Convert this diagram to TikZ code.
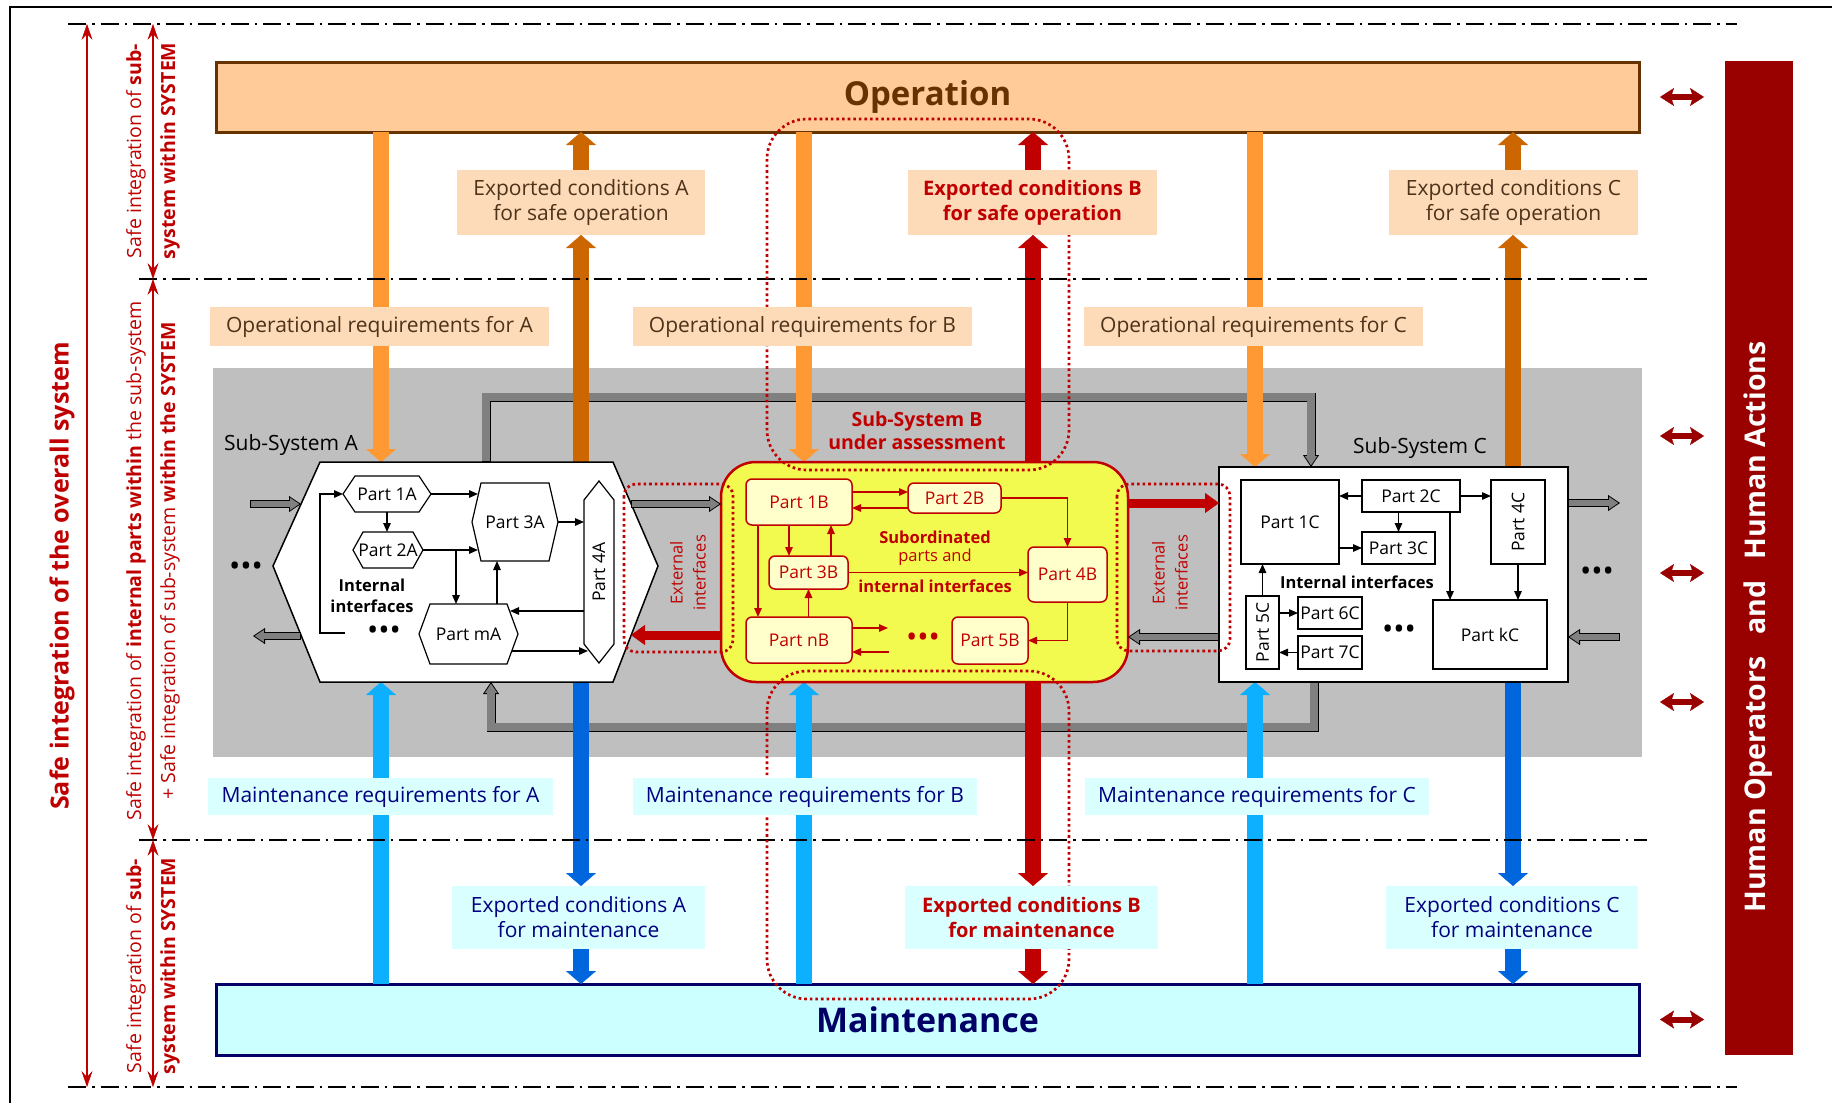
\documentclass[tikz,border=0pt]{standalone}
\usepackage{fontspec}
\usepackage{graphicx}
\setmainfont{Open Sans}
\usetikzlibrary{arrows.meta,calc}
\pgfdeclarelayer{back}
\pgfdeclarelayer{arrows}
\pgfsetlayers{back,arrows,main}
\definecolor{lor}{HTML}{FF9933}
\definecolor{dor}{HTML}{CC6600}
\definecolor{lbl}{HTML}{0DB0FF}
\definecolor{dbl}{HTML}{0066DD}
\definecolor{rd}{HTML}{C00000}
\definecolor{drd}{HTML}{990000}
\definecolor{opfill}{HTML}{FFCC99}
\definecolor{opdraw}{HTML}{663300}
\definecolor{peach}{HTML}{FDDAB8}
\definecolor{cyanl}{HTML}{DAFFFF}
\definecolor{mtfill}{HTML}{CCFFFF}
\definecolor{navy}{HTML}{000066}
\definecolor{navyt}{HTML}{000080}
\definecolor{brn}{HTML}{4D3319}
\definecolor{bgg}{HTML}{BFBFBF}
\definecolor{gry}{HTML}{808080}
\definecolor{ylw}{HTML}{F2FA50}
\definecolor{ylwl}{HTML}{FFFFCC}
\newcommand\fs[2]{\fontsize{#1}{#2}\selectfont}
\newcommand\hexh[7]{%
  \node[minimum width=#4pt,minimum height=#5pt,font=\fs{17.5}{20}] (#1) at (#2,#3) {#7};
  \draw[line width=1.2pt] (#1.west) -- ($(#1.north west)+(#6,0)$) -- ($(#1.north east)+(-#6,0)$) -- (#1.east) -- ($(#1.south east)+(-#6,0)$) -- ($(#1.south west)+(#6,0)$) -- cycle;}
\newcommand\hexv[7]{%
  \node[minimum width=#4pt,minimum height=#5pt,font=\fs{17.5}{20}] (#1) at (#2,#3) {\rotatebox{90}{#7}};
  \draw[line width=1.2pt] (#1.north) -- ($(#1.north east)+(0,#6)$) -- ($(#1.south east)+(0,-#6)$) -- (#1.south) -- ($(#1.south west)+(0,-#6)$) -- ($(#1.north west)+(0,#6)$) -- cycle;}
\begin{document}
\begin{tikzpicture}[x=1pt,y=-1pt,
  every node/.style={inner sep=0pt,outer sep=0pt},
  arr/.style={line width=1.3pt,-{Triangle[length=9pt,width=7.5pt]}},
  rarr/.style={arr,draw=rd},
  bigarr/.style={line width=16pt,-{Triangle[length=13pt,width=30pt,line width=0.4pt]}},
  fatg/.style={line width=7.5pt,draw=black,-{Triangle[length=12pt,width=16pt,line width=0.8pt,fill=gry]},postaction={draw=gry,line width=5.9pt,-,shorten >=10pt,shorten <=0.8pt}},
  fatline/.style={line width=9pt,draw=black,line join=miter,-{Triangle[length=12pt,width=16pt,line width=0.8pt,fill=gry]},postaction={draw=gry,line width=7.4pt,-,shorten >=10pt,shorten <=0.8pt}},
  fatr/.style={line width=9pt,draw=rd,-{Triangle[length=14pt,width=20pt,line width=0.4pt]}},
  larr/.style={line width=2.5pt,draw=rd,{Stealth[length=16pt,width=11pt,inset=6pt,line width=0.5pt]}-{Stealth[length=16pt,width=11pt,inset=6pt,line width=0.5pt]}},
  harr/.style={line width=6pt,draw=drd,{Stealth[length=14pt,width=18pt,inset=3pt,line width=0.4pt]}-{Stealth[length=14pt,width=18pt,inset=3pt,line width=0.4pt]}},
  dashdot/.style={line width=1.8pt,dash pattern=on 18pt off 6pt on 2.5pt off 6pt},
  reddot/.style={draw=rd,line width=2.7pt,dash pattern=on 2.6pt off 3pt},
  lb/.style={font=\fs{21}{25},align=center},
  bpart/.style={draw=rd,fill=ylwl,line width=1.5pt,rounded corners=6pt,text=rd,font=\fs{17.5}{20}},
  cpart/.style={draw=black,fill=white,line width=1.3pt,font=\fs{17.5}{20}},
  sidet/.style={rotate=90,text=rd,align=center,font=\fs{19.5}{34}},
  dots/.style={font=\fs{30}{30}}
]
\useasboundingbox (0,0) rectangle (1832,1103);
\begin{pgfonlayer}{back}
\fill[white] (0,0) rectangle (1832,1103);
\draw[line width=2.5pt] (10,1103) -- (10,7) -- (1832,7);
\fill[bgg] (213,368) rectangle (1642,757);
\node[draw=opdraw,line width=3pt,fill=opfill,minimum width=1423pt,minimum height=70pt,text=opdraw,font=\bfseries\fs{33}{38}] (op) at (927.5,97) {Operation};
\node[draw=navy,line width=3pt,fill=mtfill,minimum width=1423pt,minimum height=71pt,text=navy,font=\bfseries\fs{34}{38}] (mt) at (927.5,1019.5) {Maintenance};
\node[fill=drd,minimum width=68pt,minimum height=994pt] (hum) at (1759,558) {};
\node[rotate=90,text=white,font=\bfseries\fs{28.5}{32}] (humt) at (1758,627) {Human Operators\hspace{0.5em} and\hspace{0.5em} Human Actions};
\end{pgfonlayer}

% ---------- Subsystem A ----------
\coordinate (a1) at (320,462); \coordinate (a2) at (613,462); \coordinate (a3) at (658,566);
\coordinate (a4) at (613,682); \coordinate (a5) at (320,682); \coordinate (a6) at (273,566);
\draw[fill=white,line width=1.5pt] (a1)--(a2)--(a3)--(a4)--(a5)--(a6)--cycle;
\node[font=\fs{21}{25}] (ssAl) at (291,445) {Sub-System A};
\hexh{p1A}{387}{494}{88}{36}{12}{Part 1A}
\hexh{p2A}{388}{550}{70}{36}{10}{Part 2A}
\hexh{p3A}{515}{522}{86}{78}{9}{Part 3A}
\hexh{pmA}{468.5}{634}{99}{60}{11}{Part mA}
\hexv{p4A}{599}{572}{30}{182}{19}{Part 4A}
\node[font=\bfseries\fs{16.5}{21},align=center] (iiA) at (372,596) {Internal\\interfaces};
\node[dots] (dA1) at (384,633) {•••};
\coordinate (Y611) at (0,611); \coordinate (Y651) at (0,651);
\coordinate (brA) at (456,550); \coordinate (upA) at (497,0); \coordinate (lpA) at (345,633);
\draw[arr] (p1A.east) -- ($(p3A.west |- p1A.east)+(6,0)$);
\draw[arr] (p1A.south) -- (p1A.south |- p2A.north);
\draw[arr] (p2A.east) -- ($(p3A.west |- p2A.east)+(6,0)$);
\draw[arr] (brA) -- (brA |- pmA.north);
\draw[arr] (upA |- pmA.north) -- (upA |- p3A.south);
\draw[arr] (p3A.east) -- (p3A.east -| p4A.west);
\draw[arr] (p4A.west |- Y611) -- ($(pmA.east |- Y611)+(-8,0)$);
\draw[arr] ($(pmA.east |- Y651)+(-6,0)$) -- ($(p4A.west |- Y651)+(4,0)$);
\draw[arr] (lpA) -- ++(-25,0) |- (p1A.west);

% ---------- Subsystem B ----------
\node[draw=rd,fill=ylw,line width=2.5pt,rounded corners=35pt,minimum width=407pt,minimum height=220pt] (ssB) at (924.5,572) {};
\node[text=rd,font=\bfseries\fs{19.5}{23},align=center] (ssBl) at (917,431) {Sub-System B\\under assessment};
\node[bpart,minimum width=106pt,minimum height=46pt] (p1B) at (799,502) {Part 1B};
\node[bpart,minimum width=93pt,minimum height=30pt] (p2B) at (954.5,498) {Part 2B};
\node[bpart,minimum width=79pt,minimum height=33pt] (p3B) at (808.5,572.5) {Part 3B};
\node[bpart,minimum width=79pt,minimum height=55pt] (p4B) at (1067.5,574.5) {Part 4B};
\node[bpart,minimum width=106pt,minimum height=46pt] (pnB) at (799,640) {Part nB};
\node[bpart,minimum width=76pt,minimum height=47pt] (p5B) at (990,640.5) {Part 5B};
\node[text=rd,font=\bfseries\fs{16.5}{20}] (subo) at (935,537) {Subordinated};
\node[text=rd,font=\fs{16.5}{20}] (pand) at (935,557) {parts and};
\node[text=rd,font=\bfseries\fs{16.5}{20}] (iiB) at (935,586) {internal interfaces};
\node[dots,text=rd] (dB) at (923,640) {•••};
\coordinate (Y492) at (0,492); \coordinate (Y508) at (0,508);
\coordinate (X789) at (789,0); \coordinate (X831) at (831,0); \coordinate (X758) at (758,0);
\coordinate (Y628) at (0,628); \coordinate (Y652) at (0,652);
\coordinate (nBo) at (888,628); \coordinate (nBi) at (889,652);
\draw[rarr] (p1B.east |- Y492) -- (p2B.west |- Y492);
\draw[rarr] (p2B.west |- Y508) -- (p1B.east |- Y508);
\draw[rarr] (X789 |- p1B.south) -- (X789 |- p3B.north);
\draw[rarr] (X831 |- p3B.north) -- (X831 |- p1B.south);
\draw[rarr] (X758 |- p1B.south) -- (X758 |- pnB.north);
\draw[rarr] (pnB.north -| p3B.south) -- (p3B.south);
\draw[rarr] (p3B.east) -- (p3B.east -| p4B.west);
\draw[rarr] (p2B.east) -| (p4B.north);
\draw[rarr] (p4B.south) |- (p5B.east);
\draw[rarr] (pnB.east |- Y628) -- (nBo);
\draw[rarr] (nBi) -- (pnB.east |- Y652);

% ---------- Subsystem C ----------
\node[draw,fill=white,line width=1.5pt,minimum width=349pt,minimum height=215pt] (ssC) at (1393.5,574.5) {};
\node[font=\fs{21}{25}] (ssCl) at (1420,448) {Sub-System C};
\node[cpart,minimum width=98pt,minimum height=84pt] (p1C) at (1290,522) {Part 1C};
\node[cpart,minimum width=98pt,minimum height=32pt] (p2C) at (1411,496) {Part 2C};
\node[cpart,minimum width=73pt,minimum height=32pt] (p3C) at (1398.5,548) {Part 3C};
\node[cpart,minimum width=54pt,minimum height=84pt] (p4C) at (1518,522) {\rotatebox{90}{Part 4C}};
\node[cpart,minimum width=33pt,minimum height=73pt] (p5C) at (1262.5,632.5) {\rotatebox{90}{Part 5C}};
\node[cpart,minimum width=64pt,minimum height=32pt] (p6C) at (1330,613) {Part 6C};
\node[cpart,minimum width=64pt,minimum height=33pt] (p7C) at (1330,652.5) {Part 7C};
\node[cpart,minimum width=114pt,minimum height=69pt] (pkC) at (1490,634.5) {Part kC};
\node[font=\bfseries\fs{16.5}{20}] (iiC) at (1357,582) {Internal interfaces};
\node[dots] (dC) at (1399,632) {•••};
\coordinate (X1450) at (1450,0);
\draw[arr] (p2C.west) -- (p2C.west -| p1C.east);
\draw[arr] (p2C.east) -- (p2C.east -| p4C.west);
\draw[arr] (p3C.north |- p2C.south) -- (p3C.north);
\draw[arr] (p3C.west -| p1C.east) -- (p3C.west);
\draw[arr] (X1450 |- p2C.south) -- (X1450 |- pkC.north);
\draw[arr] (p4C.south) -- (p4C.south |- pkC.north);
\draw[arr] (p5C.north) -- (p5C.north |- p1C.south);
\draw[arr] (p6C.west -| p5C.east) -- (p6C.west);
\draw[arr] (p7C.west) -- (p7C.west -| p5C.east);

% ---------- side fat arrows ----------
\coordinate (ainA) at (250,504); \coordinate (ainAe) at (301,504);
\coordinate (aoutA) at (253,636); \coordinate (aoutAs) at (301,636);
\coordinate (aBs) at (631,504); \coordinate (aBe) at (631,635);
\coordinate (Y504) at (0,504); \coordinate (Y635) at (0,635);
\coordinate (Y503) at (0,503); \coordinate (Y637) at (0,637);
\coordinate (cout) at (1620,503); \coordinate (cin) at (1620,637);
\draw[fatg] (ainA) -- (ainAe);
\draw[fatg] (aoutAs) -- (aoutA);
\draw[fatg] (aBs) -- (ssB.west |- Y504);
\draw[fatr] (ssB.west |- Y635) -- (aBe);
\draw[fatr] (ssB.east |- Y503) -- (ssC.west |- Y503);
\draw[fatg] (ssC.west |- Y637) -- (ssB.east |- Y637);
\draw[fatg] (ssC.east |- Y503) -- (cout);
\draw[fatg] (cin) -- (ssC.east |- Y637);
\node[dots] (dL) at (246,569) {•••};
\node[dots] (dR) at (1597,574) {•••};

% ---------- dotted outlines ----------
\draw[reddot,rounded corners=40pt] (767,119) rectangle (1069,470);
\draw[reddot,rounded corners=40pt] (767,671) rectangle (1069,999);
\draw[reddot,rounded corners=12pt] (624,484) rectangle (733,652);
\draw[reddot,rounded corners=12pt] (1117,484) rectangle (1230,651);
\node[rotate=90,text=rd,align=center,font=\fs{16.5}{23}] (extL) at (688,573) {External\\interfaces};
\node[rotate=90,text=rd,align=center,font=\fs{16.5}{23}] (extR) at (1170,573) {External\\interfaces};

% ---------- label boxes ----------
\node[lb,fill=peach,text=brn,minimum width=339pt,minimum height=39pt] (orA) at (379.5,326.5) {Operational requirements for A};
\node[lb,fill=peach,text=brn,minimum width=339pt,minimum height=39pt] (orB) at (802.5,326.5) {Operational requirements for B};
\node[lb,fill=peach,text=brn,minimum width=339pt,minimum height=39pt] (orC) at (1253.5,326.5) {Operational requirements for C};
\node[lb,fill=peach,text=brn,minimum width=248pt,minimum height=65pt] (eA) at (581,202.5) {Exported conditions A\\for safe operation};
\node[lb,fill=peach,text=rd,font=\bfseries\fs{20}{25},minimum width=249pt,minimum height=65pt] (eB) at (1032.5,202.5) {Exported conditions B\\for safe operation};
\node[lb,fill=peach,text=brn,minimum width=249pt,minimum height=65pt] (eC) at (1513.5,202.5) {Exported conditions C\\for safe operation};
\node[lb,fill=cyanl,text=navyt,minimum width=345pt,minimum height=37pt] (mrA) at (380.5,796.5) {Maintenance requirements for A};
\node[lb,fill=cyanl,text=navyt,minimum width=344pt,minimum height=37pt] (mrB) at (805,796.5) {Maintenance requirements for B};
\node[lb,fill=cyanl,text=navyt,minimum width=344pt,minimum height=37pt] (mrC) at (1257,796.5) {Maintenance requirements for C};
\node[lb,fill=cyanl,text=navyt,minimum width=253pt,minimum height=63pt] (emA) at (578.5,917.5) {Exported conditions A\\for maintenance};
\node[lb,fill=cyanl,text=rd,font=\bfseries\fs{20}{25},minimum width=253pt,minimum height=63pt] (emB) at (1031.5,917.5) {Exported conditions B\\for maintenance};
\node[lb,fill=cyanl,text=navyt,minimum width=252pt,minimum height=63pt] (emC) at (1512,917.5) {Exported conditions C\\for maintenance};

% ---------- left side ----------
\node[rotate=90,text=rd,font=\bfseries\fs{25}{30}] (bigL) at (62,576) {Safe integration of the overall system};
\node[sidet] (sT1) at (153,151) {Safe integration of \textbf{sub-}\\\textbf{system within SYSTEM}};
\node[sidet] (sT2) at (153,561) {Safe integration of \textbf{internal parts within} the sub-system\\+ Safe integration of sub-system \textbf{within the SYSTEM}};
\node[sidet] (sT3) at (153,966) {Safe integration of \textbf{sub-}\\\textbf{system within SYSTEM}};

% ---------- arrows layer ----------
\begin{pgfonlayer}{arrows}
\coordinate (gt1) at (486,397); \coordinate (gt2) at (1311,397);
\coordinate (gb1) at (1314,727); \coordinate (gb2) at (491,727);
\draw[fatline] (gt1 |- a1) -- (gt1) -- (gt2) -- (gt2 |- ssC.north);
\draw[fatline] (gb1 |- ssC.south) -- (gb1) -- (gb2) -- (gb2 |- a4);
\coordinate (cA1) at (381,0); \coordinate (cA2) at (581,0);
\coordinate (cB1) at (804,0); \coordinate (cB2) at (1033,0);
\coordinate (cC1) at (1255,0); \coordinate (cC2) at (1513,0);
\draw[bigarr,draw=lor] (op.south -| cA1) -- (a1 -| cA1);
\draw[bigarr,draw=lor] (op.south -| cB1) -- (ssB.north -| cB1);
\draw[bigarr,draw=lor] (op.south -| cC1) -- (ssC.north -| cC1);
\draw[bigarr,draw=dor] (a1 -| cA2) -- (eA.south -| cA2);
\draw[bigarr,draw=dor] (eA.north -| cA2) -- (op.south -| cA2);
\draw[bigarr,draw=rd] (ssB.north -| cB2) -- (eB.south -| cB2);
\draw[bigarr,draw=rd] (eB.north -| cB2) -- (op.south -| cB2);
\draw[bigarr,draw=dor] (ssC.north -| cC2) -- (eC.south -| cC2);
\draw[bigarr,draw=dor] (eC.north -| cC2) -- (op.south -| cC2);
\draw[bigarr,draw=lbl] (mt.north -| cA1) -- (a4 -| cA1);
\draw[bigarr,draw=lbl] (mt.north -| cB1) -- (ssB.south -| cB1);
\draw[bigarr,draw=lbl] (mt.north -| cC1) -- (ssC.south -| cC1);
\draw[bigarr,draw=dbl] (a4 -| cA2) -- (emA.north -| cA2);
\draw[bigarr,draw=dbl] (emA.south -| cA2) -- (mt.north -| cA2);
\draw[bigarr,draw=rd] (ssB.south -| cB2) -- (emB.north -| cB2);
\draw[bigarr,draw=rd] (emB.south -| cB2) -- (mt.north -| cB2);
\draw[bigarr,draw=dbl] (ssC.south -| cC2) -- (emC.north -| cC2);
\draw[bigarr,draw=dbl] (emC.south -| cC2) -- (mt.north -| cC2);
% dash-dot lines
\coordinate (d1s) at (68,24); \coordinate (d1e) at (1737,24);
\coordinate (d2s) at (139,279); \coordinate (d2e) at (1647,279);
\coordinate (d3s) at (139,840); \coordinate (d3e) at (1647,840);
\coordinate (d4s) at (68,1087); \coordinate (d4e) at (1737,1087);
\draw[dashdot] (d1s) -- (d1e);
\draw[dashdot] (d2s) -- (d2e);
\draw[dashdot] (d3s) -- (d3e);
\draw[dashdot] (d4s) -- (d4e);
\end{pgfonlayer}

% left red arrows
\coordinate (L1) at (87,0); \coordinate (L2) at (153,0);
\draw[larr] (L1 |- d1s) -- (L1 |- d4s);
\draw[larr] (L2 |- d1s) -- (L2 |- d2s);
\draw[larr] (L2 |- d2s) -- (L2 |- d3s);
\draw[larr] (L2 |- d3s) -- (L2 |- d4s);

% human arrows
\coordinate (H1) at (1660,0); \coordinate (H2) at (1704,0);
\coordinate (Y436) at (0,436); \coordinate (Y573) at (0,573); \coordinate (Y702) at (0,702);
\draw[harr] (H1 |- op.east) -- (H2 |- op.east);
\draw[harr] (H1 |- Y436) -- (H2 |- Y436);
\draw[harr] (H1 |- Y573) -- (H2 |- Y573);
\draw[harr] (H1 |- Y702) -- (H2 |- Y702);
\draw[harr] (H1 |- mt.east) -- (H2 |- mt.east);
\end{tikzpicture}
\end{document}
